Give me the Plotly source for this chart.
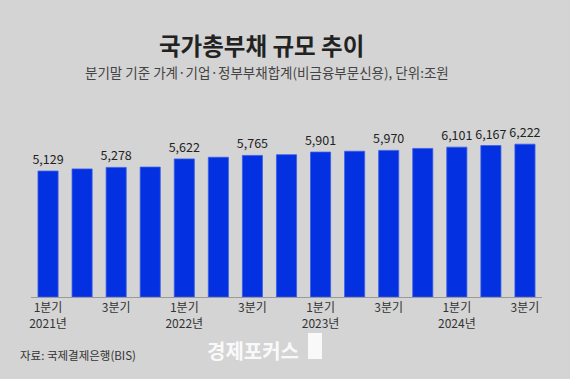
import plotly.graph_objects as go

quarters = ["2021Q1", "2021Q2", "2021Q3", "2021Q4",
            "2022Q1", "2022Q2", "2022Q3", "2022Q4",
            "2023Q1", "2023Q2", "2023Q3", "2023Q4",
            "2024Q1", "2024Q2", "2024Q3"]
debt = [5129, 5215, 5278, 5290, 5622, 5690, 5765, 5795,
        5901, 5935, 5970, 6050, 6101, 6167, 6222]
shown_labels = [True, False, True, False, True, False, True, False,
                True, False, True, False, True, True, True]
tick_vals = ["2021Q1", "2021Q3", "2022Q1", "2022Q3", "2023Q1",
             "2023Q3", "2024Q1", "2024Q3"]
tick_text = ["1분기<br>2021년", "3분기", "1분기<br>2022년", "3분기",
             "1분기<br>2023년", "3분기", "1분기<br>2024년", "3분기"]

FONT = "Noto Sans CJK KR"
BG = "#d4d4d4"

W, H = 570, 379
L, R, T, B = 31, 28, 130, 82
pw, ph = W - L - R, H - T - B


def px(x):
    return (x - L) / pw


def py(y):
    return (H - B - y) / ph


texts = [f"{v:,}" if s else "" for v, s in zip(debt, shown_labels)]

fig = go.Figure(go.Bar(
    x=quarters, y=debt,
    marker=dict(color="#0330e0", line=dict(color="#3a5ee8", width=0.8)),
    text=texts, textposition="outside", cliponaxis=False,
    constraintext="none",
    textfont=dict(family=FONT, size=12.5, color="#222222"),
))

fig.update_layout(
    width=W, height=H,
    margin=dict(l=L, r=R, t=T, b=B),
    paper_bgcolor=BG, plot_bgcolor=BG,
    bargap=0.41,
    showlegend=False,
    font=dict(family=FONT),
    xaxis=dict(
        type="category", tickmode="array", tickvals=tick_vals, ticktext=tick_text,
        showline=True, linecolor="#9a9a9a", linewidth=1, showgrid=False,
        ticks="", tickfont=dict(family=FONT, size=12, color="#333333"),
    ),
    yaxis=dict(range=[0, 6800], visible=False, showgrid=False),
    annotations=[
        dict(text="<b>국가총부채 규모 추이</b>", x=px(261), y=py(45), xref="paper", yref="paper",
             xanchor="center", yanchor="middle", showarrow=False,
             font=dict(family=FONT, size=23.5, color="#222222")),
        dict(text="분기말 기준 가계·기업·정부부채합계(비금융부문신용), 단위:조원",
             x=px(267), y=py(72), xref="paper", yref="paper",
             xanchor="center", yanchor="middle", showarrow=False,
             font=dict(family=FONT, size=13.5, color="#444444")),
        dict(text="자료: 국제결제은행(BIS)", x=px(18), y=py(355), xref="paper", yref="paper",
             xanchor="left", yanchor="middle", showarrow=False,
             font=dict(family=FONT, size=11.5, color="#333333")),
        dict(text="<b>경제포커스</b>", x=px(253), y=py(350), xref="paper", yref="paper",
             xanchor="center", yanchor="middle", showarrow=False,
             font=dict(family=FONT, size=20, color="rgba(255,255,255,0.9)")),
    ],
    shapes=[
        dict(type="rect", xref="paper", yref="paper",
             x0=px(308), x1=px(322), y0=py(359), y1=py(333),
             fillcolor="rgba(255,255,255,0.85)", line=dict(width=0)),
    ],
)

fig.write_html("out.html",
               config={"displayModeBar": False},
               post_script="document.body.style.margin='0';"
                           "document.body.style.background='" + BG + "';")
